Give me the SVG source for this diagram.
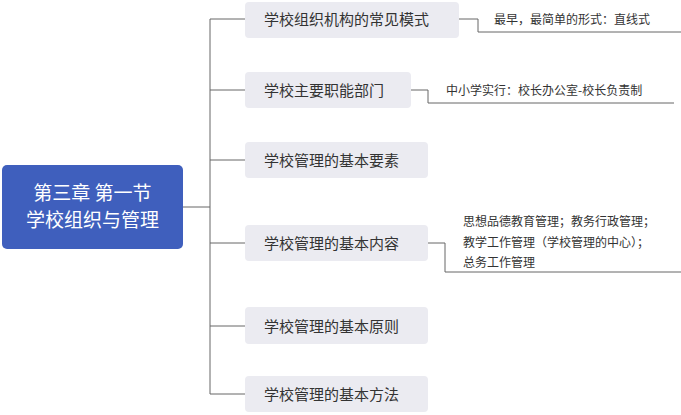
<svg xmlns="http://www.w3.org/2000/svg" width="681" height="415" viewBox="0 0 681 415">
<style>
.n{fill:#ebebf1}
.t{font-family:"Noto Sans CJK SC",sans-serif;font-size:15px;fill:#333}
.s{font-family:"Noto Sans CJK SC",sans-serif;font-size:12px;fill:#333}
.c{fill:none;stroke:#666;stroke-width:1}
</style>
<rect width="681" height="415" fill="#fff"/>
<g id="connectors">
<path class="c" d="M183 207H210M210 19V394M210 19H245M210 90H245M210 160H245M210 243H245M210 326H245M210 394H245"/>
<path class="c" d="M459 19H478V32H681M411 90H428V103H674M428 243H445V272H681"/>
</g>
<g id="root"><rect x="2" y="165" width="181" height="84" rx="5" fill="#3f5fbd"/>
<text x="92.5" y="200" text-anchor="middle" font-family="Noto Sans CJK SC,sans-serif" font-size="19" fill="#fff">第三章 第一节</text>
<text x="92.5" y="227" text-anchor="middle" font-family="Noto Sans CJK SC,sans-serif" font-size="19" fill="#fff">学校组织与管理</text></g>
<g id="n1"><rect class="n" x="245" y="2" width="214" height="36" rx="4"/><text class="t" x="264" y="25">学校组织机构的常见模式</text></g>
<g id="n1a"><text class="s" x="494" y="24">最早，最简单的形式：直线式</text></g>
<g id="n2"><rect class="n" x="245" y="72" width="166" height="36" rx="4"/><text class="t" x="264" y="96">学校主要职能部门</text></g>
<g id="n2a"><text class="s" x="446" y="95">中小学实行：校长办公室-校长负责制</text></g>
<g id="n3"><rect class="n" x="245" y="142" width="183" height="36" rx="4"/><text class="t" x="264" y="166">学校管理的基本要素</text></g>
<g id="n4"><rect class="n" x="245" y="225" width="183" height="36" rx="4"/><text class="t" x="264" y="249">学校管理的基本内容</text></g>
<g id="n4a"><text class="s" x="463" y="226">思想品德教育管理；教务行政管理；</text><text class="s" x="463" y="247">教学工作管理（学校管理的中心）；</text><text class="s" x="463" y="267">总务工作管理</text></g>
<g id="n5"><rect class="n" x="245" y="307" width="183" height="37" rx="4"/><text class="t" x="264" y="332">学校管理的基本原则</text></g>
<g id="n6"><rect class="n" x="245" y="376" width="183" height="36" rx="4"/><text class="t" x="264" y="400">学校管理的基本方法</text></g>
</svg>
